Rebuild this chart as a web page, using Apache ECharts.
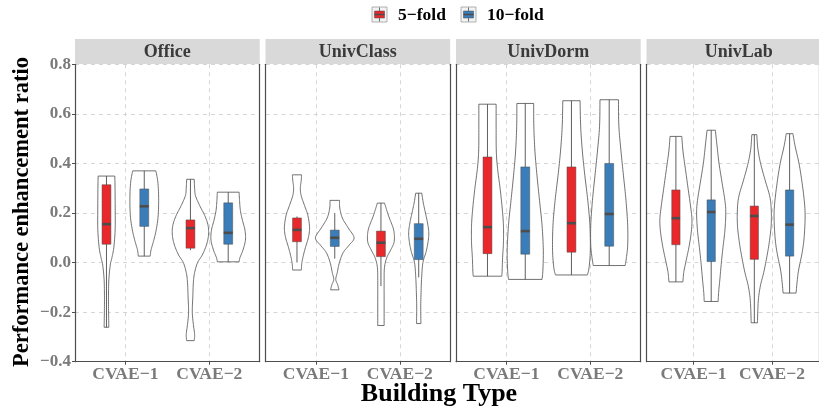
<!DOCTYPE html>
<html>
<head>
<meta charset="utf-8">
<script src="https://cdn.jsdelivr.net/npm/echarts@6/dist/echarts.min.js"></script>
<style>
  html, body { margin: 0; padding: 0; background: #ffffff; }
  #chart { width: 819px; height: 408px; }
</style>
</head>
<body>
<div id="chart"></div>
<script>
// ---- data ---------------------------------------------------------------
const buildingTypes = ['Office', 'UnivClass', 'UnivDorm', 'UnivLab'];
const models = ['CVAE−1', 'CVAE−2'];
const folds = ['5−fold', '10−fold'];
const yTickValues = [-0.4, -0.2, 0.0, 0.2, 0.4, 0.6, 0.8];

// Box statistics, one row per model (CVAE-1, CVAE-2):
// [lower whisker, Q1, median, Q3, upper whisker]
const officeBox5 = [[-0.261, 0.074, 0.155, 0.314, 0.349], [0.050, 0.058, 0.139, 0.172, 0.336]];
const officeBox10 = [[0.026, 0.146, 0.227, 0.297, 0.370], [0.003, 0.074, 0.120, 0.241, 0.284]];
const classBox5 = [[0.000, 0.084, 0.132, 0.180, 0.186], [-0.095, 0.024, 0.080, 0.127, 0.240]];
const classBox10 = [[0.016, 0.065, 0.100, 0.131, 0.200], [-0.060, 0.012, 0.096, 0.157, 0.280]];
const dormBox5 = [[-0.055, 0.036, 0.143, 0.426, 0.639], [-0.050, 0.042, 0.159, 0.386, 0.653]];
const dormBox10 = [[-0.068, 0.034, 0.127, 0.386, 0.642], [-0.012, 0.066, 0.196, 0.400, 0.657]];
const labBox5 = [[-0.078, 0.072, 0.179, 0.293, 0.509], [-0.243, 0.013, 0.188, 0.228, 0.516]];
const labBox10 = [[-0.157, 0.004, 0.204, 0.253, 0.534], [-0.123, 0.026, 0.153, 0.293, 0.520]];

// Kernel density outlines, one list per model: [ratio value, scaled density]
const officeViolin5 = [
  [[0.349, 0.099], [0.30, 0.102], [0.20, 0.104], [0.13, 0.103], [0.06, 0.087], [0.02, 0.065], [-0.01, 0.045], [-0.07, 0.028], [-0.14, 0.024], [-0.20, 0.025], [-0.261, 0.028]],
  [[0.336, 0.045], [0.30, 0.050], [0.27, 0.060], [0.23, 0.110], [0.19, 0.170], [0.15, 0.210], [0.11, 0.215], [0.07, 0.190], [0.03, 0.140], [0.0, 0.085], [-0.04, 0.050], [-0.08, 0.035], [-0.14, 0.028], [-0.20, 0.022], [-0.25, 0.035], [-0.29, 0.050], [-0.315, 0.045]]
];
const officeViolin10 = [
  [[0.370, 0.138], [0.33, 0.160], [0.28, 0.170], [0.22, 0.170], [0.17, 0.160], [0.12, 0.135], [0.08, 0.105], [0.05, 0.080], [0.026, 0.071]],
  [[0.284, 0.130], [0.25, 0.135], [0.21, 0.145], [0.17, 0.170], [0.13, 0.200], [0.09, 0.205], [0.05, 0.175], [0.02, 0.140], [0.003, 0.130]]
];
const classViolin5 = [
  [[0.354, 0.055], [0.33, 0.050], [0.30, 0.040], [0.27, 0.050], [0.23, 0.090], [0.19, 0.130], [0.14, 0.150], [0.10, 0.135], [0.06, 0.100], [0.02, 0.070], [-0.01, 0.055], [-0.030, 0.053]],
  [[0.240, 0.043], [0.21, 0.070], [0.18, 0.100], [0.14, 0.145], [0.11, 0.160], [0.08, 0.155], [0.05, 0.115], [0.02, 0.070], [-0.02, 0.042], [-0.08, 0.038], [-0.15, 0.038], [-0.254, 0.038]]
];
const classViolin10 = [
  [[0.251, 0.057], [0.22, 0.060], [0.18, 0.090], [0.14, 0.160], [0.10, 0.230], [0.07, 0.170], [0.04, 0.100], [0.0, 0.055], [-0.04, 0.030], [-0.068, 0.012], [-0.09, 0.035], [-0.110, 0.050]],
  [[0.280, 0.036], [0.24, 0.055], [0.20, 0.080], [0.16, 0.105], [0.12, 0.120], [0.08, 0.110], [0.04, 0.085], [0.0, 0.050], [-0.06, 0.035], [-0.12, 0.028], [-0.18, 0.024], [-0.246, 0.026]]
];
const dormViolin5 = [
  [[0.639, 0.103], [0.55, 0.103], [0.45, 0.105], [0.38, 0.120], [0.30, 0.150], [0.22, 0.175], [0.15, 0.190], [0.08, 0.190], [0.02, 0.180], [-0.03, 0.175], [-0.055, 0.170]],
  [[0.653, 0.103], [0.55, 0.110], [0.45, 0.130], [0.35, 0.160], [0.25, 0.195], [0.15, 0.220], [0.05, 0.225], [-0.02, 0.210], [-0.050, 0.190]]
];
const dormViolin10 = [
  [[0.642, 0.100], [0.55, 0.102], [0.45, 0.115], [0.35, 0.140], [0.25, 0.170], [0.15, 0.200], [0.05, 0.215], [-0.03, 0.210], [-0.068, 0.200]],
  [[0.657, 0.110], [0.55, 0.115], [0.45, 0.140], [0.35, 0.170], [0.25, 0.200], [0.15, 0.220], [0.07, 0.220], [0.02, 0.205], [-0.012, 0.190]]
];
const labViolin5 = [
  [[0.509, 0.075], [0.45, 0.090], [0.38, 0.120], [0.30, 0.155], [0.22, 0.190], [0.17, 0.205], [0.12, 0.195], [0.06, 0.165], [0.0, 0.125], [-0.04, 0.100], [-0.078, 0.089]],
  [[0.516, 0.032], [0.46, 0.045], [0.40, 0.080], [0.33, 0.140], [0.27, 0.195], [0.22, 0.215], [0.15, 0.215], [0.08, 0.190], [0.02, 0.158], [-0.04, 0.120], [-0.09, 0.080], [-0.14, 0.055], [-0.19, 0.045], [-0.243, 0.040]]
];
const labViolin10 = [
  [[0.534, 0.053], [0.47, 0.075], [0.40, 0.100], [0.32, 0.140], [0.25, 0.175], [0.20, 0.186], [0.13, 0.175], [0.06, 0.150], [0.0, 0.130], [-0.07, 0.110], [-0.12, 0.095], [-0.157, 0.089]],
  [[0.520, 0.043], [0.47, 0.070], [0.40, 0.120], [0.32, 0.160], [0.24, 0.190], [0.18, 0.198], [0.10, 0.185], [0.04, 0.160], [-0.03, 0.115], [-0.08, 0.095], [-0.123, 0.083]]
];

// lookup tables: [building][fold]
const boxTable = [
  [officeBox5, officeBox10], [classBox5, classBox10], [dormBox5, dormBox10], [labBox5, labBox10]
];
const violinTable = [
  [officeViolin5, officeViolin10], [classViolin5, classViolin10], [dormViolin5, dormViolin10], [labViolin5, labViolin10]
];

// ---- styling / layout ----------------------------------------------------
const FONT = 'Liberation Serif';
const foldColors = ['#E8282B', '#3A7DB8'];
const lineColor = '#4d4d4d';
const dodge = 0.225;        // horizontal offset of each fold from the model position
const boxHalf = 0.053;      // half width of the boxes, in axis units
const panelLeft = 75, panelPitch = 190.5, panelWidth = 184.7;
const panelTop = 64.3, panelHeight = 297.4;
const stripTop = 39, stripHeight = 25;

// Catmull-Rom smoothing of an outline given in pixel coordinates
function smoothLine(pts, steps) {
  const out = [];
  for (let i = 0; i < pts.length - 1; i++) {
    const p0 = pts[Math.max(i - 1, 0)], p1 = pts[i], p2 = pts[i + 1], p3 = pts[Math.min(i + 2, pts.length - 1)];
    for (let s = 0; s < steps; s++) {
      const t = s / steps, t2 = t * t, t3 = t2 * t;
      const f = (a, b, c, d) => 0.5 * ((2 * b) + (-a + c) * t + (2 * a - 5 * b + 4 * c - d) * t2 + (-a + 3 * b - 3 * c + d) * t3);
      out.push([f(p0[0], p1[0], p2[0], p3[0]), f(p0[1], p1[1], p2[1], p3[1])]);
    }
  }
  out.push(pts[pts.length - 1]);
  return out;
}

function makeRenderer(b, f) {
  return function (params, api) {
    const m = params.dataIndex;
    const cx = api.value(0) + (f === 0 ? -dodge : dodge);
    const lw = api.value(1), q1 = api.value(2), med = api.value(3), q3 = api.value(4), uw = api.value(5);
    const profile = violinTable[b][f][m];
    const right = smoothLine(profile.map(p => api.coord([cx + p[1], p[0]])), 8);
    const left = smoothLine(profile.map(p => api.coord([cx - p[1], p[0]])), 8).reverse();
    const pTop = api.coord([cx - boxHalf, q3]);
    const pBot = api.coord([cx + boxHalf, q1]);
    const pMedL = api.coord([cx - boxHalf, med]);
    const pMedR = api.coord([cx + boxHalf, med]);
    const wTop = api.coord([cx, uw]);
    const wBot = api.coord([cx, lw]);
    return {
      type: 'group',
      children: [
        { type: 'polygon', shape: { points: right.concat(left) },
          style: { fill: '#ffffff', stroke: lineColor, lineWidth: 0.8 } },
        { type: 'line', shape: { x1: wTop[0], y1: wTop[1], x2: wBot[0], y2: wBot[1] },
          style: { stroke: lineColor, lineWidth: 0.9 } },
        { type: 'rect', shape: { x: pTop[0], y: pTop[1], width: pBot[0] - pTop[0], height: pBot[1] - pTop[1] },
          style: { fill: foldColors[f], stroke: lineColor, lineWidth: 0.5 } },
        { type: 'line', shape: { x1: pMedL[0], y1: pMedL[1], x2: pMedR[0], y2: pMedR[1] },
          style: { stroke: lineColor, lineWidth: 2.6 } }
      ]
    };
  };
}

const grids = [], xAxes = [], yAxes = [], series = [], graphics = [];
const dashed = { show: true, lineStyle: { color: '#cccccc', width: 0.8, type: [4, 4] } };

buildingTypes.forEach((name, b) => {
  const left = panelLeft + b * panelPitch;
  grids.push({ left: left, top: panelTop, width: panelWidth, height: panelHeight });
  xAxes.push({
    type: 'value', gridIndex: b, min: 0.4, max: 2.6,
    axisLine: { show: true, onZero: false, lineStyle: { color: lineColor, width: 1.2 } },
    axisTick: { show: true, customValues: [1, 2], length: 3, lineStyle: { color: lineColor } },
    axisLabel: { show: true, customValues: [1, 2], formatter: v => models[Math.round(v) - 1],
      fontFamily: FONT, fontWeight: 'bold', fontSize: 17.5, color: '#7a7a7a', margin: 4 },
    splitLine: dashed
  });
  yAxes.push({
    type: 'value', gridIndex: b, min: -0.4, max: 0.8, interval: 0.2,
    axisLine: { show: true, onZero: false, lineStyle: { color: lineColor, width: 1.2 } },
    axisTick: { show: b === 0, length: 3, lineStyle: { color: lineColor } },
    axisLabel: { show: b === 0, fontFamily: FONT, fontWeight: 'bold', fontSize: 17, color: '#7a7a7a', margin: 4,
      formatter: v => (v < 0 ? '−' : '') + Math.abs(v).toFixed(1) },
    splitLine: dashed
  });
  yAxes.push({
    type: 'value', gridIndex: b, min: -0.4, max: 0.8, position: 'right',
    axisLine: { show: true, onZero: false, lineStyle: { color: lineColor, width: 1.2 } },
    axisTick: { show: false }, axisLabel: { show: false }, splitLine: { show: false }
  });
  folds.forEach((fold, f) => {
    series.push({
      type: 'custom', name: fold, xAxisIndex: b, yAxisIndex: 2 * b,
      renderItem: makeRenderer(b, f),
      encode: { x: 0, y: [1, 2, 3, 4, 5] },
      data: boxTable[b][f].map((s, m) => [m + 1].concat(s)),
      clip: false
    });
  });
  // facet strip
  graphics.push({ type: 'rect', left: left, top: stripTop, z: 10,
    shape: { width: panelWidth, height: stripHeight }, style: { fill: '#d9d9d9' } });
  graphics.push({ type: 'text', x: left + panelWidth / 2, y: stripTop + stripHeight / 2 + 1, z: 11,
    style: { text: name, fontFamily: FONT, fontWeight: 'bold', fontSize: 18, fill: '#3a3a3a',
      align: 'center', verticalAlign: 'middle' } });
});

// axis titles
graphics.push({ type: 'text', x: 439, y: 394, style: { text: 'Building Type', fontFamily: FONT,
  fontWeight: 'bold', fontSize: 26, fill: '#000', align: 'center', verticalAlign: 'middle' } });
graphics.push({ type: 'text', x: 22, y: 212, rotation: Math.PI / 2, style: { text: 'Performance enhancement ratio',
  fontFamily: FONT, fontWeight: 'bold', fontSize: 22.5, fill: '#000', align: 'center', verticalAlign: 'middle' } });

// legend
const legendItems = [{ x: 372, textX: 398 }, { x: 461, textX: 487 }];
legendItems.forEach((it, f) => {
  graphics.push({ type: 'group', x: it.x, y: 7, children: [
    { type: 'rect', shape: { x: 0, y: 0, width: 15, height: 15 }, style: { fill: '#f2f2f2', stroke: '#a0a0a0', lineWidth: 0.8 } },
    { type: 'line', shape: { x1: 7.5, y1: 0.5, x2: 7.5, y2: 14.5 }, style: { stroke: lineColor, lineWidth: 0.8 } },
    { type: 'rect', shape: { x: 2.5, y: 4, width: 10, height: 7 }, style: { fill: foldColors[f], stroke: lineColor, lineWidth: 0.5 } },
    { type: 'line', shape: { x1: 2.5, y1: 7.5, x2: 12.5, y2: 7.5 }, style: { stroke: lineColor, lineWidth: 1.6 } }
  ] });
  graphics.push({ type: 'text', x: it.textX, y: 15, style: { text: folds[f], fontFamily: FONT, fontWeight: 'bold',
    fontSize: 17.5, fill: '#000', align: 'left', verticalAlign: 'middle' } });
});

const chart = echarts.init(document.getElementById('chart'), null, { renderer: 'canvas' });
chart.setOption({
  animation: false,
  backgroundColor: '#ffffff',
  grid: grids,
  xAxis: xAxes,
  yAxis: yAxes,
  series: series,
  graphic: graphics
});
</script>
</body>
</html>
